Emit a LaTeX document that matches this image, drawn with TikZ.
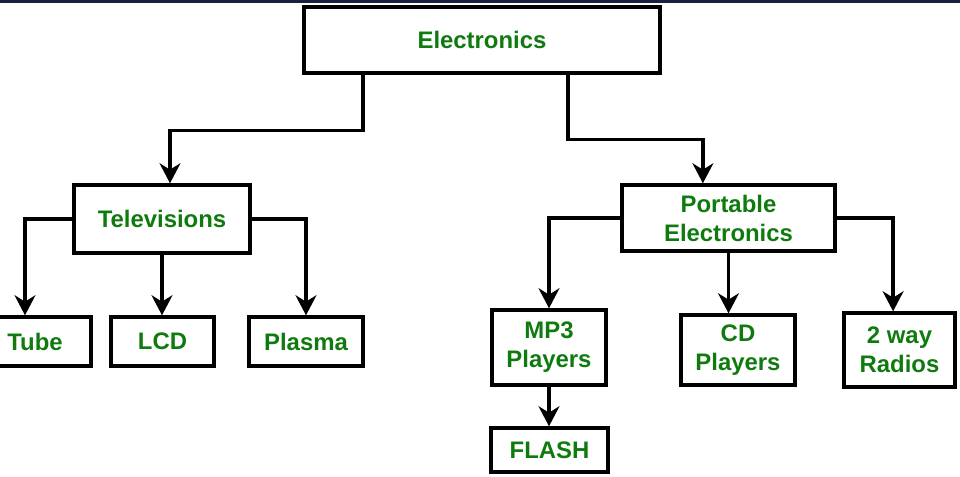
\documentclass[tikz,border=0pt]{standalone}
\usepackage{fontspec}
\setmainfont{Liberation Sans}
\usetikzlibrary{positioning,calc,arrows.meta}
\definecolor{leafgreen}{HTML}{0F7B0F}
\definecolor{topnavy}{HTML}{18223F}

\begin{document}
\begin{tikzpicture}[x=0.025cm,y=-0.025cm,
  every node/.style={font=\fontsize{17}{20.6}\selectfont\bfseries,text=leafgreen},
  box/.style={draw,line width=0.085cm,align=center,inner sep=0pt},
  arr/.style={line width=0.085cm,-{Stealth[length=0.5cm,width=0.52cm,inset=0.16cm]}}]
\useasboundingbox (0,0) rectangle (960,476);
\fill[topnavy] (0,0) rectangle (960,3);
\node[box,minimum width=8.9cm,minimum height=1.65cm] (elec) at (482,40) {Electronics};
\node[box,minimum width=4.4cm,minimum height=1.7cm] (tv) at (162,219) {Televisions};
\node[box,minimum width=5.325cm,minimum height=1.65cm] (port) at (728.5,218) {Portable\\Electronics};
\node[box,minimum width=2.8cm,minimum height=1.225cm] (tube) at (35,341.5) {Tube};
\node[box,minimum width=2.575cm,minimum height=1.225cm] (lcd) at (162.5,341.5) {LCD};
\node[box,minimum width=2.85cm,minimum height=1.225cm] (plasma) at (306,341.5) {Plasma};
\node[box,minimum width=2.85cm,minimum height=1.875cm] (mp3) at (549,347.5) {MP3\\Players};
\node[box,minimum width=2.925cm,minimum height=1.1cm] (flash) at (549.5,450) {FLASH};
\node[box,minimum width=2.85cm,minimum height=1.75cm] (cd) at (738,350) {CD\\Players};
\node[box,minimum width=2.775cm,minimum height=1.85cm] (radio) at (899.5,350) {2 way\\Radios};
\draw[arr] ([xshift=-2.975cm]elec.south) -- ++(0,56) -| ([xshift=0.2cm]tv.north);
\draw[arr] ([xshift=2.15cm]elec.south) -- ++(0,65) -| ([xshift=-0.64cm]port.north);
\draw[arr] (tv.west) -| ([xshift=-0.25cm]tube.north);
\draw[arr] (tv.south) -- (tv.south |- lcd.north);
\draw[arr] (tv.east) -| (plasma.north);
\draw[arr] (port.west) -| (mp3.north);
\draw[arr] (port.south) -- (port.south |- cd.north);
\draw[arr] (port.east) -| ([xshift=-0.16cm]radio.north);
\draw[arr] (mp3.south) -- (mp3.south |- flash.north);
\end{tikzpicture}
\end{document}
